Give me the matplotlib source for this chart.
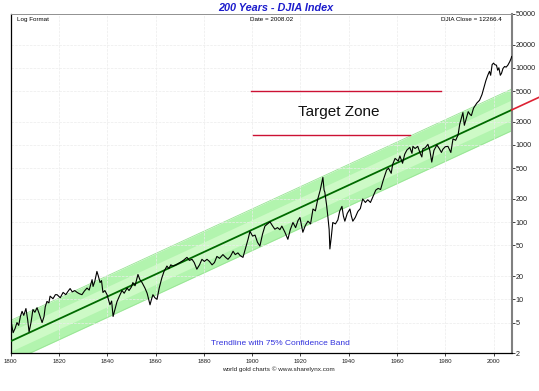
import numpy as np
import matplotlib
matplotlib.use("Agg")
import matplotlib.pyplot as plt
from matplotlib.ticker import FixedLocator, NullLocator

plt.rcParams['font.family'] = ['Liberation Sans', 'DejaVu Sans']

# DJIA (log scale)
years = [1800.0, 1800.5, 1801.0, 1801.8, 1802.6, 1803.3, 1804.0, 1804.7, 1805.4, 1806.3,
         1807.0, 1807.6, 1808.4, 1809.2, 1810.0, 1810.9, 1811.8, 1813.0, 1813.8, 1814.3,
         1815.0, 1815.8, 1816.3, 1817.5, 1818.5, 1819.2, 1820.5, 1821.7, 1822.8, 1823.8,
         1824.6, 1825.5, 1826.5, 1827.5, 1828.5, 1829.5, 1830.5, 1831.6, 1832.5, 1833.7,
         1834.1, 1834.8, 1835.7, 1836.3, 1837.0, 1837.6, 1838.2, 1839.0, 1839.9, 1841.1,
         1841.8, 1842.4, 1843.2, 1844.0, 1845.0, 1846.1, 1847.0, 1848.2, 1849.0, 1850.0,
         1850.6, 1851.5, 1852.7, 1853.5, 1854.4, 1855.6, 1856.5, 1857.7, 1858.3, 1858.9,
         1859.7, 1860.6, 1861.5, 1862.6, 1863.5, 1864.7, 1865.5, 1866.3, 1867.2, 1868.5,
         1870.1, 1871.5, 1873.0, 1874.0, 1875.1, 1876.0, 1877.1, 1878.2, 1879.2, 1880.2,
         1881.3, 1882.3, 1883.4, 1884.4, 1885.4, 1886.5, 1887.9, 1889.0, 1890.0, 1891.0,
         1892.1, 1893.0, 1894.1, 1895.0, 1896.2, 1897.2, 1898.3, 1899.1, 1900.2, 1901.2,
         1902.2, 1903.2, 1904.3, 1905.3, 1906.4, 1907.4, 1908.4, 1909.4, 1910.5, 1911.5,
         1912.3, 1913.5, 1914.8, 1915.8, 1916.9, 1918.0, 1919.0, 1919.8, 1921.0, 1922.0,
         1923.1, 1924.2, 1925.2, 1926.2, 1927.2, 1928.2, 1929.3, 1929.8, 1930.1, 1930.8,
         1931.4, 1931.9, 1932.2, 1932.8, 1933.4, 1934.5, 1935.5, 1936.3, 1937.2, 1937.8,
         1938.4, 1939.4, 1940.5, 1941.1, 1941.7, 1942.7, 1943.8, 1944.8, 1945.8, 1946.9,
         1947.9, 1949.0, 1950.2, 1951.2, 1952.2, 1953.2, 1954.3, 1955.7, 1956.5, 1957.6,
         1958.2, 1959.2, 1960.5, 1961.2, 1962.3, 1963.2, 1964.1, 1965.3, 1966.2, 1966.6,
         1967.5, 1968.6, 1969.6, 1970.3, 1970.7, 1971.7, 1972.8, 1973.6, 1974.4, 1975.3,
         1976.5, 1977.5, 1978.4, 1979.0, 1980.0, 1981.1, 1982.3, 1983.2, 1984.3, 1985.3,
         1986.0, 1987.3, 1987.9, 1988.5, 1989.5, 1990.2, 1990.8, 1991.7, 1993.1, 1994.2,
         1995.2, 1996.0, 1996.8, 1997.6, 1998.3, 1998.8, 1999.4, 2000.0, 2000.5, 2001.2,
         2001.7, 2002.2, 2002.8, 2003.3, 2003.9, 2004.6, 2005.2, 2005.9, 2006.7, 2007.3,
         2007.5]
djia = [5.8, 4.5, 3.7, 4.2, 5.0, 4.6, 6.0, 7.0, 6.2, 7.6,
        5.5, 3.8, 5.0, 7.4, 6.8, 7.8, 6.5, 5.0, 6.0, 8.0,
        9.4, 9.0, 11.0, 10.2, 11.5, 11.5, 10.5, 12.3, 11.5, 12.8,
        13.8, 12.5, 13.0, 12.3, 11.8, 11.5, 12.8, 14.0, 13.2, 18.0,
        14.7, 17.0, 23.0, 20.0, 16.5, 17.5, 12.3, 13.0, 11.5, 8.5,
        9.5, 6.0, 7.5, 9.3, 11.0, 13.0, 12.0, 14.0, 13.0, 14.5,
        16.5, 15.0, 21.0, 18.0, 16.5, 14.0, 12.0, 8.5, 10.0, 11.5,
        10.5, 10.0, 14.0, 19.0, 23.0, 27.0, 25.0, 28.0, 27.0, 28.0,
        30.0, 32.0, 35.0, 32.0, 33.0, 30.0, 24.6, 28.0, 33.0, 31.0,
        33.0, 31.0, 28.0, 30.0, 36.0, 34.0, 38.0, 35.0, 33.0, 36.0,
        42.0, 38.0, 40.0, 37.0, 35.0, 45.0, 60.0, 76.0, 66.0, 68.0,
        55.0, 49.0, 70.0, 89.0, 95.0, 101.0, 90.0, 81.0, 85.0, 80.0,
        89.0, 75.0, 60.0, 80.0, 99.0, 85.0, 105.0, 115.0, 74.0, 90.0,
        103.0, 95.0, 148.0, 140.0, 200.0, 260.0, 380.0, 260.0, 245.0, 170.0,
        115.0, 80.0, 45.0, 65.0, 99.0, 95.0, 107.0, 140.0, 160.0, 120.0,
        103.0, 130.0, 148.0, 120.0, 103.0, 115.0, 138.0, 150.0, 200.0, 180.0,
        195.0, 180.0, 220.0, 260.0, 274.0, 265.0, 350.0, 474.0, 500.0, 430.0,
        560.0, 670.0, 620.0, 720.0, 580.0, 760.0, 860.0, 930.0, 780.0, 960.0,
        900.0, 960.0, 780.0, 700.0, 890.0, 920.0, 1020.0, 850.0, 600.0, 850.0,
        1000.0, 900.0, 800.0, 880.0, 950.0, 960.0, 800.0, 1200.0, 1150.0, 1350.0,
        1870.0, 2630.0, 1800.0, 2100.0, 2700.0, 2500.0, 2400.0, 3000.0, 3500.0, 3800.0,
        4500.0, 5500.0, 6800.0, 8000.0, 9000.0, 8000.0, 11000.0, 11500.0, 11000.0, 10800.0,
        9300.0, 10000.0, 8000.0, 8500.0, 9800.0, 10400.0, 10200.0, 10800.0, 12000.0, 13300.0,
        14000.0]

# trendline end points and confidence band factor
trend_years = [1800.0, 2007.5]
trend_vals = [2.87, 2845.0]
band_factor = 1.86
inner_factor = 1.35
ext_years = [2007.5, 2019.0]
ext_vals = [2845.0, 4170.0]

# target zone lines
zone_hi_years = [1899.5, 1978.2]
zone_hi_val = 5000
zone_lo_years = [1900.3, 1965.3]
zone_lo_val = 1350

yticks = [2, 5, 10, 20, 50, 100, 200, 500, 1000, 2000, 5000, 10000, 20000, 50000]
xticks = list(range(1800, 2001, 20))

fig = plt.figure(figsize=(5.39, 3.91), dpi=100)
ax = fig.add_axes([0.0199, 0.0964, 0.9294, 0.8682])

ax.set_yscale('log')
ax.set_xlim(1800, 2007.5)
ax.set_ylim(2, 50000)

tv = np.array(trend_vals)
ax.fill_between(trend_years, tv / band_factor, tv * band_factor, color='#b2f4ae', lw=0, zorder=1)
ax.fill_between(trend_years, tv / inner_factor, tv * inner_factor, color='#cdfac6', lw=0, zorder=1)
ax.plot(trend_years, tv * band_factor, color='#98e494', lw=0.6, zorder=1)
ax.plot(trend_years, tv / band_factor, color='#98e494', lw=0.6, zorder=1)

ax.plot(trend_years, trend_vals, color='#006a00', lw=1.3, zorder=3)
ax.plot(ext_years, ext_vals, color='#dd2233', lw=1.2, clip_on=False, zorder=3)

ax.plot(years, djia, color='black', lw=0.8, zorder=4)

ax.plot(zone_hi_years, [zone_hi_val] * 2, color='#cc1133', lw=1.0, zorder=3)
ax.plot(zone_lo_years, [zone_lo_val] * 2, color='#cc1133', lw=1.0, zorder=3)
ax.text(1936.0, 2700, 'Target Zone', fontsize=11, ha='center', va='center', color='#111111')

ax.grid(True, which='major', color='#ececec', lw=0.5, ls='--', zorder=0)

ax.yaxis.tick_right()
ax.yaxis.set_major_locator(FixedLocator(yticks))
ax.yaxis.set_minor_locator(NullLocator())
ax.set_yticklabels([str(v) for v in yticks])
ax.set_xticks(xticks)
ax.tick_params(axis='y', labelsize=5.2, length=2, width=0.6, pad=1, colors='#222222')
ax.tick_params(axis='x', labelsize=4.4, length=2, width=0.6, pad=2, colors='#222222')

ax.spines['left'].set_color('black')
ax.spines['bottom'].set_color('black')
ax.spines['top'].set_color('#909090')
ax.spines['right'].set_color('#808080')
ax.spines['right'].set_linewidth(1.5)
ax.spines['left'].set_linewidth(0.9)
ax.spines['bottom'].set_linewidth(0.9)
ax.spines['top'].set_linewidth(0.7)

ax.text(0.012, 0.992, 'Log Format', transform=ax.transAxes, fontsize=4.5, va='top', ha='left')
ax.text(0.52, 0.992, 'Date = 2008.02', transform=ax.transAxes, fontsize=4.5, va='top', ha='center')
ax.text(0.98, 0.992, 'DJIA Close = 12266.4', transform=ax.transAxes, fontsize=4.5, va='top', ha='right')
ax.text(0.538, 0.018, 'Trendline with 75% Confidence Band', transform=ax.transAxes,
        fontsize=6, va='bottom', ha='center', color='#3333dd')

fig.text(0.512, 0.979, '200 Years - DJIA Index', fontsize=7.8, fontweight='bold', style='italic',
         color='#1c1ccc', ha='center', va='center')
fig.text(0.516, 0.056, 'world gold charts \u00a9 www.sharelynx.com', fontsize=4.6,
         ha='center', va='center', color='#222222')

fig.savefig('out.png', dpi=100)
